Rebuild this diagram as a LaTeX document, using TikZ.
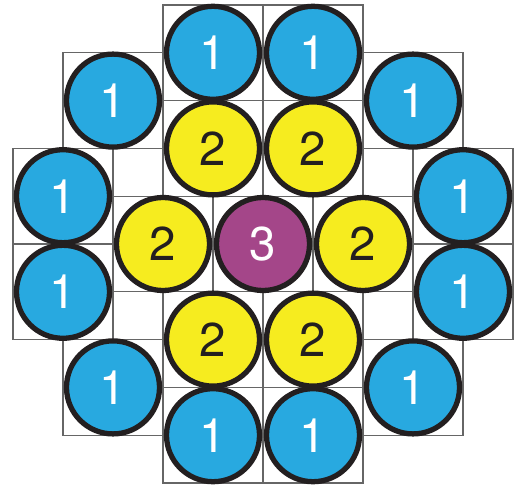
\documentclass[tikz,border=0pt]{standalone}
\usepackage{fontspec}
\setsansfont{TeX Gyre Heros}
\usepackage{xcolor}
\usepackage{tikz}

\definecolor{ballblue}{RGB}{40,169,224}
\definecolor{ballyellow}{RGB}{246,236,31}
\definecolor{ballpurple}{RGB}{164,70,137}
\definecolor{ballrim}{RGB}{35,31,32}

\begin{document}
\begin{tikzpicture}[
  x=1cm,y=0.956cm,
  cell/.style={draw=black!60,line width=.6pt},
  ball/.style={circle,draw=ballrim,line width=3pt,minimum size=1.86cm,
    inner sep=0pt,font=\sffamily\fontsize{27}{27}\selectfont},
  outer/.style={ball,fill=ballblue,text=white},
  middle/.style={ball,fill=ballyellow,text=ballrim},
  core/.style={ball,fill=ballpurple,text=white}
]
\useasboundingbox (-0.26cm,-0.04cm) rectangle (10.14cm,9.66cm);

% boxes round the balls
\draw[cell] (3,8) rectangle (5,10) (5,8) rectangle (7,10);
\draw[cell] (1,7) rectangle (3,9) (7,7) rectangle (9,9);
\draw[cell] (0,5) rectangle (2,7) (0,3) rectangle (2,5);
\draw[cell] (8,5) rectangle (10,7) (8,3) rectangle (10,5);
\draw[cell] (1,1) rectangle (3,3) (7,1) rectangle (9,3);
\draw[cell] (3,0) rectangle (5,2) (5,0) rectangle (7,2);
\draw[cell] (3,6) rectangle (5,8) (5,6) rectangle (7,8);
\draw[cell] (2,4) rectangle (4,6) (6,4) rectangle (8,6);
\draw[cell] (3,2) rectangle (5,4) (5,2) rectangle (7,4);
\draw[cell] (4,4) rectangle (6,6);
% empty boxes
\draw[cell] (2,6) rectangle (3,7) (7,6) rectangle (8,7);
\draw[cell] (2,3) rectangle (3,4) (7,3) rectangle (8,4);

% outer ring
\node[outer] (top-l) at (4,9) {1};
\node[outer] (top-r) at (6,9) {1};
\node[outer] (up-l) at (2,8) {1};
\node[outer] (up-r) at (8,8) {1};
\node[outer] (side-l1) at (1,6) {1};
\node[outer] (side-l2) at (1,4) {1};
\node[outer] (side-r1) at (9,6) {1};
\node[outer] (side-r2) at (9,4) {1};
\node[outer] (low-l) at (2,2) {1};
\node[outer] (low-r) at (8,2) {1};
\node[outer] (bot-l) at (4,1) {1};
\node[outer] (bot-r) at (6,1) {1};

% inner ring
\node[middle] (in-tl) at (4,7) {2};
\node[middle] (in-tr) at (6,7) {2};
\node[middle] (in-l) at (3,5) {2};
\node[middle] (in-r) at (7,5) {2};
\node[middle] (in-bl) at (4,3) {2};
\node[middle] (in-br) at (6,3) {2};

% centre
\node[core] (centre) at (5,5) {3};
\end{tikzpicture}
\end{document}
